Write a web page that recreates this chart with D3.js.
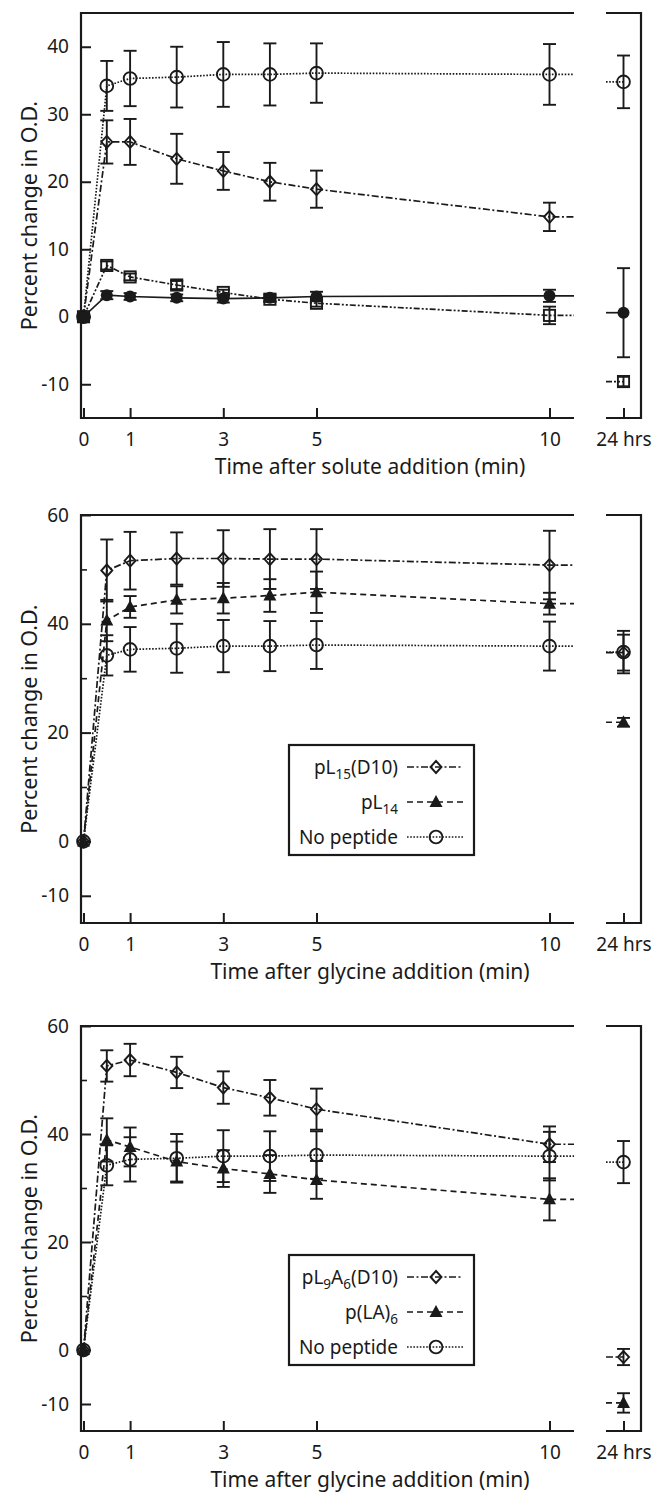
<!DOCTYPE html>
<html>
<head>
<meta charset="utf-8">
<script src="https://cdn.jsdelivr.net/npm/d3@7"></script>
<style>
  html, body { margin: 0; padding: 0; background: #fff; }
  svg { display: block; font-family: "Noto Sans", "DejaVu Sans", sans-serif; }
</style>
</head>
<body>
<svg id="fig" width="655" height="1494"></svg>
<script>
// ---- time axis -------------------------------------------------------
const minutes = [0, 0.5, 1, 2, 3, 4, 5, 10];
const minuteTicks = [0, 1, 3, 5, 10];
const longTimeLabel = "24 hrs";

// ---- shared control: no peptide ---------------------------------------
const noPeptide      = [0, 34.2, 35.3, 35.5, 35.9, 35.9, 36.1, 35.9];
const noPeptideErr   = [0, 3.7, 4.1, 4.5, 4.8, 4.6, 4.4, 4.5];
const noPeptide24    = 34.8;
const noPeptide24Err = 3.9;

// ---- panel A: solute addition ------------------------------------------
const yTicksA = [-10, 0, 10, 20, 30, 40];
const soluteDiamond    = [0, 25.9, 25.9, 23.4, 21.6, 20.0, 18.9, 14.8];
const soluteDiamondErr = [0, 3.2, 3.4, 3.7, 2.8, 2.8, 2.75, 2.1];
const soluteDot        = [0, 3.2, 3.0, 2.8, 2.7, 2.8, 3.0, 3.1];
const soluteDotErr     = [0, 0.6, 0.5, 0.5, 0.6, 0.5, 0.7, 0.9];
const soluteDot24      = 0.6;
const soluteDot24Err   = 6.6;
const soluteSquare     = [0, 7.6, 5.9, 4.7, 3.6, 2.6, 2.0, 0.2];
const soluteSquareErr  = [0, 0.6, 0.5, 0.6, 0.4, 0.4, 0.5, 1.3];
const soluteSquare24   = -9.6;
const soluteSquare24Err = 0.7;

// ---- panels B and C: glycine addition ----------------------------------
const yTicksBC = [-10, 0, 20, 40, 60];
const minorTicksBC = [10, 30, 50];

const pL15D10      = [0, 49.8, 51.6, 52.0, 52.0, 51.9, 51.9, 50.8];
const pL15D10Err   = [0, 5.7, 5.3, 4.8, 5.2, 5.5, 5.5, 6.3];
const pL15D10_24   = 34.7;
const pL15D10_24Err = 3.3;
const pL14         = [0, 40.6, 43.1, 44.4, 44.7, 45.2, 45.8, 43.7];
const pL14Err      = [0, 3.8, 2.0, 2.5, 2.8, 3.0, 3.8, 2.0];
const pL14_24      = 21.9;
const pL14_24Err   = 0.8;

const pL9A6D10     = [0, 52.6, 53.7, 51.4, 48.6, 46.7, 44.6, 38.1];
const pL9A6D10Err  = [0, 2.9, 3.0, 2.9, 3.0, 3.3, 3.8, 3.3];
const pL9A6D10_24  = -1.3;
const pL9A6D10_24Err = 1.5;
const pLA6         = [0, 38.9, 37.6, 34.9, 33.6, 32.6, 31.5, 27.9];
const pLA6Err      = [0, 4.0, 3.6, 3.7, 3.4, 3.5, 3.5, 3.9];
const pLA6_24      = -9.8;
const pLA6_24Err   = 1.8;

// legend labels: plain strings and subscript parts
const legendB = [[["pL"], ["15", "sub"], ["(D10)"]], [["pL"], ["14", "sub"]], [["No peptide"]]];
const legendC = [[["pL"], ["9", "sub"], ["A"], ["6", "sub"], ["(D10)"]], [["p(LA)"], ["6", "sub"]], [["No peptide"]]];

const yTitle = "Percent change in O.D.";
const xTitleA = "Time after solute addition (min)";
const xTitleBC = "Time after glycine addition (min)";

// ---- line and marker styles ------------------------------------------
const DOTTED = "1.6,1.6", DASHDOT = "7,2.5,2,2.5", DASHED = "6,4", DASHDOTDOT = "6,2,2,2,2,2", SOLID = null;

function mkSeries(values, errs, v24, e24, marker, dash) {
  return { points: minutes.map((m, i) => ({ t: m, v: values[i], e: errs[i] })),
           late: v24 == null ? null : { v: v24, e: e24 }, marker, dash };
}

const panels = [
  { top: 13, bottom: 418, yDomain: [-15, 45], yTicks: yTicksA, minor: [], xTitle: xTitleA, legend: null,
    series: [
      mkSeries(soluteSquare, soluteSquareErr, soluteSquare24, soluteSquare24Err, "square", DASHDOTDOT),
      mkSeries(soluteDot, soluteDotErr, soluteDot24, soluteDot24Err, "dot", SOLID),
      mkSeries(soluteDiamond, soluteDiamondErr, null, null, "diamond", DASHDOT),
      mkSeries(noPeptide, noPeptideErr, noPeptide24, noPeptide24Err, "circle", DOTTED)
    ] },
  { top: 515, bottom: 923, yDomain: [-15, 60], yTicks: yTicksBC, minor: minorTicksBC, xTitle: xTitleBC,
    legend: { top: 745, labels: legendB, markers: ["diamond", "triangle", "circle"], dashes: [DASHDOT, DASHED, DOTTED] },
    series: [
      mkSeries(noPeptide, noPeptideErr, noPeptide24, noPeptide24Err, "circle", DOTTED),
      mkSeries(pL14, pL14Err, pL14_24, pL14_24Err, "triangle", DASHED),
      mkSeries(pL15D10, pL15D10Err, pL15D10_24, pL15D10_24Err, "diamond", DASHDOT)
    ] },
  { top: 1026, bottom: 1431, yDomain: [-15, 60], yTicks: yTicksBC, minor: minorTicksBC, xTitle: xTitleBC,
    legend: { top: 1255, labels: legendC, markers: ["diamond", "triangle", "circle"], dashes: [DASHDOT, DASHED, DOTTED] },
    series: [
      mkSeries(noPeptide, noPeptideErr, noPeptide24, noPeptide24Err, "circle", DOTTED),
      mkSeries(pLA6, pLA6Err, pLA6_24, pLA6_24Err, "triangle", DASHED),
      mkSeries(pL9A6D10, pL9A6D10Err, pL9A6D10_24, pL9A6D10_24Err, "diamond", DASHDOT)
    ] }
];

// ---- geometry ----------------------------------------------------------
const LEFT = 81, MAIN_RIGHT = 574, LATE_LEFT = 606, LATE_RIGHT = 641;
const x = d3.scaleLinear().domain([0, 10]).range([83.5, 549.5]);
const xLate = d3.scalePoint().domain([longTimeLabel]).range([LATE_LEFT, LATE_RIGHT]).padding(0.5);
const xEnd = x.invert(MAIN_RIGHT);

const svg = d3.select("#fig");
const INK = "#1a1a1a";

function drawMarker(g, type, cx, cy) {
  const s = g.append("g").attr("transform", `translate(${cx},${cy})`);
  const open = { fill: "none", stroke: INK, "stroke-width": 1.9 };
  const apply = (sel, o) => { Object.entries(o).forEach(([k, v]) => sel.attr(k, v)); return sel; };
  if (type === "circle") apply(s.append("circle").attr("r", 6.4), open);
  else if (type === "dot") s.append("circle").attr("r", 6).attr("fill", INK);
  else if (type === "diamond") apply(s.append("path").attr("d", "M0,-6L5.5,0L0,6L-5.5,0Z"), open);
  else if (type === "square") apply(s.append("rect").attr("x", -5.6).attr("y", -5.6).attr("width", 11.2).attr("height", 11.2), open);
  else if (type === "triangle") s.append("path").attr("d", "M0,-7L6.5,5L-6.5,5Z").attr("fill", INK);
}

function drawErr(g, cx, y, v, e) {
  if (!e) return;
  const y1 = y(v - e), y2 = y(v + e), cap = 6.5;
  g.append("line").attr("x1", cx).attr("x2", cx).attr("y1", y1).attr("y2", y2);
  g.append("line").attr("x1", cx - cap).attr("x2", cx + cap).attr("y1", y1).attr("y2", y1);
  g.append("line").attr("x1", cx - cap).attr("x2", cx + cap).attr("y1", y2).attr("y2", y2);
}

panels.forEach(p => {
  const y = d3.scaleLinear().domain(p.yDomain).range([p.bottom, p.top]);
  const g = svg.append("g");

  // y axis (ticks point into the plot)
  const yAxis = g.append("g").attr("transform", `translate(${LEFT},0)`)
    .call(d3.axisLeft(y).tickValues(p.yTicks).tickSize(-10).tickSizeOuter(0).tickPadding(12).tickFormat(d => String(d)));
  yAxis.attr("font-family", null).attr("font-size", null);
  yAxis.select(".domain").remove();
  yAxis.selectAll(".tick line").attr("stroke", INK).attr("stroke-width", 2);
  yAxis.selectAll(".tick text").attr("font-size", 19).attr("fill", INK);
  if (p.minor.length) {
    const minor = g.append("g").attr("transform", `translate(${LEFT},0)`)
      .call(d3.axisLeft(y).tickValues(p.minor).tickSize(-6).tickSizeOuter(0).tickFormat(""));
    minor.select(".domain").remove();
    minor.selectAll(".tick line").attr("stroke", INK).attr("stroke-width", 1.6);
  }

  // x axes: minutes and the separate 24 h segment
  const xAxis = g.append("g").attr("transform", `translate(0,${p.bottom})`)
    .call(d3.axisBottom(x).tickValues(minuteTicks).tickSize(-10).tickSizeOuter(0).tickPadding(15));
  const xLateAxis = g.append("g").attr("transform", `translate(0,${p.bottom})`)
    .call(d3.axisBottom(xLate).tickSize(-10).tickSizeOuter(0).tickPadding(15));
  [xAxis, xLateAxis].forEach(a => {
    a.attr("font-family", null).attr("font-size", null);
    a.select(".domain").remove();
    a.selectAll(".tick line").attr("stroke", INK).attr("stroke-width", 2);
    a.selectAll(".tick text").attr("font-size", 19).attr("fill", INK);
  });

  // frame of the two segments
  const frame = g.append("g").attr("stroke", INK).attr("stroke-width", 2.2).attr("fill", "none");
  frame.append("path").attr("d", `M${MAIN_RIGHT},${p.top}H${LEFT}V${p.bottom}H${MAIN_RIGHT}`);
  frame.append("path").attr("d", `M${LATE_LEFT},${p.top}H${LATE_RIGHT}V${p.bottom}H${LATE_LEFT}`);

  // series lines
  const line = d3.line().x(d => x(d.t)).y(d => y(d.v));
  const lines = g.append("g").attr("fill", "none").attr("stroke", INK).attr("stroke-width", 1.7);
  p.series.forEach(s => {
    const last = s.points[s.points.length - 1];
    lines.append("path")
      .attr("d", line(s.points.concat([{ t: xEnd, v: last.v }])))
      .attr("stroke-dasharray", s.dash);
    if (s.late) {
      lines.append("line")
        .attr("x1", LATE_LEFT).attr("x2", xLate(longTimeLabel))
        .attr("y1", y(s.late.v)).attr("y2", y(s.late.v))
        .attr("stroke-dasharray", s.dash);
    }
  });

  // error bars
  const errs = g.append("g").attr("stroke", INK).attr("stroke-width", 1.9);
  p.series.forEach(s => {
    s.points.forEach(d => drawErr(errs, x(d.t), y, d.v, d.e));
    if (s.late) drawErr(errs, xLate(longTimeLabel), y, s.late.v, s.late.e);
  });

  // markers
  const marks = g.append("g");
  p.series.forEach(s => {
    s.points.forEach(d => drawMarker(marks, s.marker, x(d.t), y(d.v)));
    if (s.late) drawMarker(marks, s.marker, xLate(longTimeLabel), y(s.late.v));
  });

  // axis titles
  g.append("text")
    .attr("transform", `translate(37,${(p.top + p.bottom) / 2}) rotate(-90)`)
    .attr("text-anchor", "middle").attr("font-size", 21.5).attr("fill", INK)
    .text(yTitle);
  g.append("text")
    .attr("x", 370).attr("y", p.bottom + 56)
    .attr("text-anchor", "middle").attr("font-size", 21).attr("fill", INK)
    .text(p.xTitle);

  // legend
  if (p.legend) {
    const L = p.legend;
    const lg = g.append("g");
    lg.append("rect").attr("x", 289).attr("y", L.top).attr("width", 185).attr("height", 110)
      .attr("fill", "#fff").attr("stroke", INK).attr("stroke-width", 2.2);
    const rows = [L.top + 22, L.top + 57, L.top + 92];
    L.labels.forEach((parts, i) => {
      const t = lg.append("text").attr("x", 398).attr("y", rows[i]).attr("dy", "0.36em")
        .attr("text-anchor", "end").attr("font-size", 19).attr("fill", INK);
      let shifted = false;
      parts.forEach(([str, kind]) => {
        const ts = t.append("tspan").text(str);
        if (kind === "sub" && !shifted) { ts.attr("font-size", 13.5).attr("dy", 5); shifted = true; }
        else if (kind === "sub") { ts.attr("font-size", 13.5); }
        else if (shifted) { ts.attr("dy", -5); shifted = false; }
      });
      lg.append("line").attr("x1", 407).attr("x2", 463).attr("y1", rows[i]).attr("y2", rows[i])
        .attr("stroke", INK).attr("stroke-width", 1.6).attr("stroke-dasharray", L.dashes[i]);
      drawMarker(lg, L.markers[i], 436, rows[i]);
    });
  }
});
</script>
</body>
</html>
